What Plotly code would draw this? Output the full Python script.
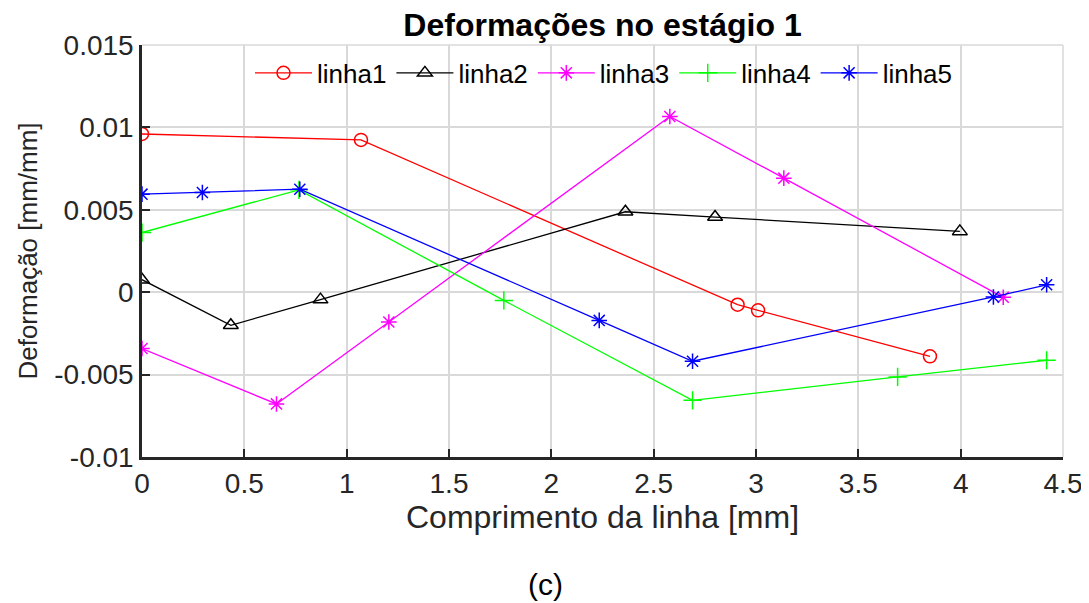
import plotly.graph_objects as go

# Data
l1_x = [0.0, 1.07, 2.91, 3.01, 3.85]
l1_y = [0.0096, 0.00924, -0.00076, -0.0011, -0.00389]
l2_x = [0.0, 0.434, 0.872, 2.362, 2.80, 3.996]
l2_y = [0.00076, -0.00201, -0.00045, 0.00488, 0.00456, 0.00369]
l3_x = [0.0, 0.657, 1.206, 2.579, 3.136, 4.208]
l3_y = [-0.00342, -0.00678, -0.00181, 0.01066, 0.00692, -0.00031]
l4_x = [0.0, 0.767, 1.768, 2.69, 3.692, 4.42]
l4_y = [0.00362, 0.00621, -0.0005, -0.00656, -0.00514, -0.00413]
l5_x = [0.0, 0.295, 0.771, 2.234, 2.69, 4.16, 4.42]
l5_y = [0.00595, 0.00605, 0.00625, -0.00171, -0.00419, -0.00029, 0.00045]

names = ["linha1", "linha2", "linha3", "linha4", "linha5"]
colors = ["#ff0000", "#000000", "#ff00ff", "#00ff00", "#0000ff"]
symbols = ["circle-open", "triangle-up-open", "asterisk-open", "cross-thin-open", "asterisk-open"]
xs = [l1_x, l2_x, l3_x, l4_x, l5_x]
ys = [l1_y, l2_y, l3_y, l4_y, l5_y]

x_ticks = [0, 0.5, 1, 1.5, 2, 2.5, 3, 3.5, 4, 4.5]
x_ticktext = ["0", "0.5", "1", "1.5", "2", "2.5", "3", "3.5", "4", "4.5"]
y_ticks = [-0.01, -0.005, 0, 0.005, 0.01, 0.015]
y_ticktext = ["-0.01", "-0.005", "0", "0.005", "0.01", "0.015"]

fig = go.Figure()
for x, y, n, c, s in zip(xs, ys, names, colors, symbols):
    fig.add_trace(go.Scatter(
        x=x, y=y, name=n, mode="lines+markers",
        line=dict(color=c, width=1.3),
        marker=dict(symbol=s, size=13, color=c, line=dict(color=c, width=1.5)),
    ))

OFF = 8  # page body margin offset
FW, FH = 1089, 603
L, T = 142 - OFF, 45 - OFF
R = FW - 1063 + OFF
B = FH - 457.5 + OFF
H = FH - T - B
W = FW - L - R

def py(pix):  # target page pixel y -> paper y
    return (FH - B - (pix - OFF)) / H

def px(pix):  # target page pixel x -> paper x
    return (pix - OFF - L) / W

font_family = "Liberation Sans, Arial, sans-serif"
fig.update_layout(
    width=FW, height=FH,
    paper_bgcolor="white", plot_bgcolor="white",
    margin=dict(l=L, r=R, t=T, b=B, autoexpand=False),
    font=dict(family=font_family, color="#262626"),
    title=dict(text="<b>Deformações no estágio 1</b>", x=((142 + 1063) / 2 - OFF) / FW, xanchor="center",
               y=1 - (25 - OFF) / FH, yanchor="middle", font=dict(size=32, color="black")),
    showlegend=True,
    legend=dict(orientation="h", x=px(250), y=py(73), xanchor="left", yanchor="middle",
                bgcolor="rgba(255,255,255,0)", font=dict(size=26, color="black"),
                itemwidth=57, tracegroupgap=0),
    xaxis=dict(range=[0, 4.5], tickvals=x_ticks, ticktext=x_ticktext, automargin=False,
               showgrid=True, gridcolor="#d9d9d9", gridwidth=1.5,
               showline=True, linecolor="#262626", linewidth=2.5,
               ticks="inside", ticklen=8, tickcolor="#262626", tickwidth=1.5,
               tickfont=dict(size=28, color="#262626"), zeroline=False,
               title=dict(text="Comprimento da linha [mm]", font=dict(size=32, color="#262626"), standoff=4)),
    yaxis=dict(range=[-0.01, 0.015], tickvals=y_ticks, ticktext=y_ticktext, automargin=False,
               showgrid=True, gridcolor="#d9d9d9", gridwidth=1.5,
               showline=True, linecolor="#262626", linewidth=2.5,
               ticks="inside", ticklen=8, tickcolor="#262626", tickwidth=1.5,
               tickfont=dict(size=28, color="#262626"), zeroline=False,
               title=dict(text="Deformação [mm/mm]", font=dict(size=26, color="#262626"), standoff=10)),
    annotations=[dict(text="(c)", x=px(545), y=py(585),
                      xref="paper", yref="paper",
                      xanchor="center", yanchor="middle", showarrow=False,
                      font=dict(size=30, color="black"))],
)
# extend grid to top/right like MATLAB
fig.add_shape(type="line", xref="paper", yref="paper", x0=0, x1=1, y0=1, y1=1,
              line=dict(color="#d9d9d9", width=1.5), layer="below")
fig.add_shape(type="line", xref="paper", yref="paper", x0=1, x1=1, y0=0, y1=1,
              line=dict(color="#d9d9d9", width=1.5), layer="below")

fig.write_html("out.html")
